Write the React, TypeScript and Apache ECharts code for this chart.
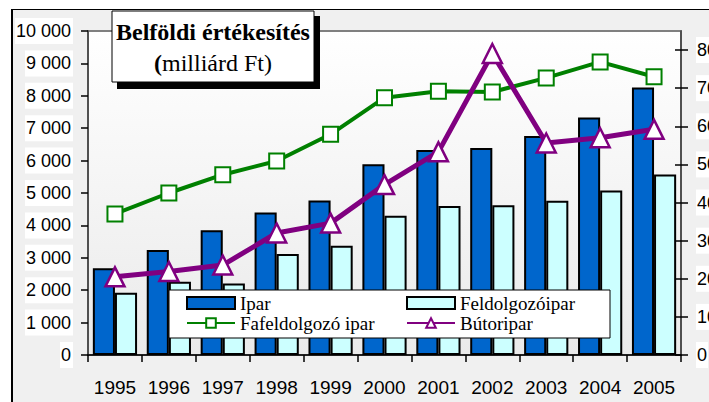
import React, { useEffect, useRef } from 'react';
import * as echarts from 'echarts';

const years = ['1995', '1996', '1997', '1998', '1999', '2000', '2001', '2002', '2003', '2004', '2005'];
const ipar = [2680, 3240, 3850, 4400, 4770, 5890, 6330, 6390, 6760, 7330, 8260];
const feldolgozoipar = [1920, 2260, 2210, 3120, 3370, 4300, 4600, 4620, 4760, 5080, 5570];
const fafeldolgozoIpar = [37.0, 42.5, 47.3, 50.9, 57.9, 67.5, 69.2, 69.0, 72.7, 76.9, 73.0];
const butoripar = [20.5, 21.9, 23.6, 32.0, 34.6, 44.7, 53.3, 79.1, 55.6, 57.0, 59.2];
const rightTicks = [0, 10, 20, 30, 40, 50, 60, 70, 80];

const SERIF = 'Liberation Serif';
const SANS = 'Liberation Sans';

export default function App() {
  const ref = useRef<HTMLDivElement>(null);
  useEffect(() => {
    const chart = echarts.init(ref.current!, null, { renderer: 'svg' });
    const legendText = { fontFamily: SERIF, fontSize: 19, color: '#000', lineHeight: 20 };
    chart.setOption({
      animation: false,
      backgroundColor: 'transparent',
      grid: {
        left: 88,
        top: 31,
        right: 59,
        bottom: 47,
        show: true,
        borderColor: '#808080',
        borderWidth: 2,
        backgroundColor: new echarts.graphic.LinearGradient(0, 0, 0, 1, [
          { offset: 0, color: '#ffffff' },
          { offset: 1, color: '#eaeaea' },
        ]),
      },
      xAxis: {
        type: 'category',
        data: years,
        axisLine: { lineStyle: { color: '#000', width: 1.5 } },
        axisTick: { show: true, length: 7, lineStyle: { color: '#000', width: 1.5 } },
        axisLabel: { interval: 0, fontFamily: SANS, fontSize: 19, color: '#000', margin: 23 },
      },
      yAxis: [
        {
          type: 'value',
          min: 0,
          max: 10000,
          interval: 1000,
          splitLine: { show: false },
          axisLine: { show: true, lineStyle: { color: '#404040', width: 1.5 } },
          axisTick: { show: true, length: 7, lineStyle: { color: '#000', width: 1.5 } },
          axisLabel: {
            fontFamily: SANS,
            fontSize: 18,
            color: '#000',
            margin: 15,
            backgroundColor: '#fff',
            padding: [4, 2, 4, 1],
            formatter: (v: number) => String(v).replace(/\B(?=(\d{3})+(?!\d))/g, ' '),
          },
        },
        {
          type: 'value',
          position: 'right',
          min: 0,
          max: 85,
          interval: 10,
          splitLine: { show: false },
          axisLine: { show: true, lineStyle: { color: '#404040', width: 1.5 } },
          axisTick: { show: true, length: 7, customValues: rightTicks, lineStyle: { color: '#000', width: 1.5 } },
          axisLabel: {
            fontFamily: SANS,
            fontSize: 18,
            color: '#000',
            margin: 15,
            backgroundColor: '#fff',
            padding: [4, 1, 4, 1],
            customValues: rightTicks,
          },
        },
        {
          type: 'value',
          position: 'right',
          min: 0,
          max: 85,
          interval: 10,
          splitLine: { show: false },
          axisLine: { show: false },
          axisTick: { show: true, inside: true, length: 6, customValues: rightTicks, lineStyle: { color: '#000', width: 1.5 } },
          axisLabel: { show: false },
        },
      ],
      legend: [
        {
          orient: 'vertical',
          left: 186,
          top: 293,
          padding: 0,
          itemGap: 0,
          itemWidth: 48,
          itemHeight: 12,
          selectedMode: false,
          textStyle: legendText,
          data: [
            { name: 'Ipar', icon: 'rect', textStyle: legendText },
            { name: 'Fafeldolgozó ipar', textStyle: legendText },
          ],
        },
        {
          orient: 'vertical',
          left: 406,
          top: 293,
          padding: 0,
          itemGap: 0,
          itemWidth: 48,
          itemHeight: 12,
          selectedMode: false,
          textStyle: legendText,
          data: [
            { name: 'Feldolgozóipar', icon: 'rect', textStyle: legendText },
            { name: 'Bútoripar', textStyle: legendText },
          ],
        },
      ],
      series: [
        {
          name: 'Ipar',
          type: 'bar',
          data: ipar,
          barGap: '0%',
          barCategoryGap: '18%',
          itemStyle: { color: '#0066CC', borderColor: '#000', borderWidth: 2 },
        },
        {
          name: 'Feldolgozóipar',
          type: 'bar',
          data: feldolgozoipar,
          barGap: '0%',
          barCategoryGap: '18%',
          itemStyle: { color: '#CCFFFF', borderColor: '#000', borderWidth: 2 },
        },
        {
          name: 'Fafeldolgozó ipar',
          type: 'line',
          yAxisIndex: 1,
          data: fafeldolgozoIpar,
          symbol: 'rect',
          symbolSize: 15,
          z: 5,
          lineStyle: { color: '#008000', width: 4 },
          itemStyle: { color: '#fff', borderColor: '#008000', borderWidth: 2 },
        },
        {
          name: 'Bútoripar',
          type: 'line',
          yAxisIndex: 1,
          data: butoripar,
          symbol: 'triangle',
          symbolSize: 19,
          z: 6,
          lineStyle: { color: '#800080', width: 5 },
          itemStyle: { color: '#fff', borderColor: '#800080', borderWidth: 2.5 },
        },
      ],
      graphic: [
        {
          type: 'rect',
          z: 3,
          shape: { x: 169, y: 290, width: 441, height: 48 },
          style: { fill: '#fff', stroke: '#000', lineWidth: 1 },
        },
        {
          type: 'group',
          z: 20,
          children: [
            { type: 'rect', z: 20, shape: { x: 117, y: 16, width: 203, height: 73 }, style: { fill: '#000' } },
            {
              type: 'rect',
              z: 21,
              shape: { x: 112, y: 11, width: 202, height: 71 },
              style: { fill: '#fff', stroke: '#000', lineWidth: 1 },
            },
            {
              type: 'text',
              z: 22,
              style: {
                text: 'Belföldi értékesítés',
                x: 213,
                y: 32,
                align: 'center',
                verticalAlign: 'middle',
                fontFamily: SERIF,
                fontSize: 24,
                fontWeight: 'bold',
                fill: '#000',
              },
            },
            {
              type: 'text',
              z: 22,
              style: {
                text: '{b|(}{n|milliárd Ft)}',
                x: 213,
                y: 63,
                align: 'center',
                verticalAlign: 'middle',
                fill: '#000',
                rich: {
                  b: { fontFamily: SERIF, fontSize: 24, fontWeight: 'bold', fill: '#000' },
                  n: { fontFamily: SERIF, fontSize: 24, fill: '#000' },
                },
              },
            },
          ],
        },
      ],
    });
    return () => chart.dispose();
  }, []);

  return (
    <div style={{ position: 'fixed', left: 0, top: 0, width: 709, height: 402, overflow: 'hidden', background: '#fff' }}>
      <div
        style={{
          position: 'absolute',
          left: 11,
          top: 9,
          width: 800,
          height: 500,
          background: '#f0f0f0',
          borderLeft: '2px solid #000',
          borderTop: '1.5px solid #000',
        }}
      />
      <div ref={ref} style={{ position: 'absolute', left: 0, top: 0, width: 740, height: 402 }} />
    </div>
  );
}
